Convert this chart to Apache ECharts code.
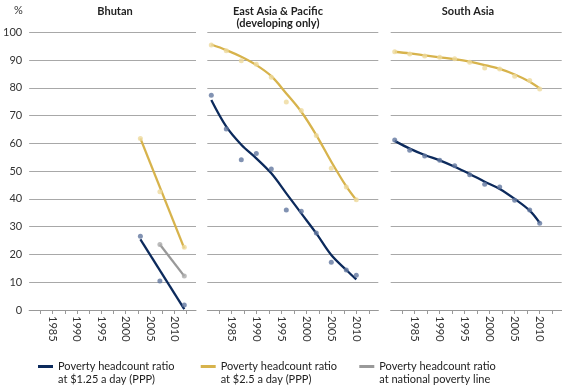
<!DOCTYPE html>
<html><head><meta charset="utf-8">
<script src="https://cdn.jsdelivr.net/npm/echarts@6/dist/echarts.min.js"></script>
<style>html,body{margin:0;padding:0;background:#fff}#c{width:562px;height:387px}</style>
</head><body><div id="c"></div>
<script>
// ---------- data ----------
const panelTitles = ['Bhutan', 'East Asia & Pacific\n(developing only)', 'South Asia'];
const yTickValues = [0, 10, 20, 30, 40, 50, 60, 70, 80, 90, 100];
const xTickYears = [1982.5, 1985, 1987.5, 1990, 1992.5, 1995, 1997.5, 2000, 2002.5, 2005, 2007.5, 2010, 2012.5];
const xLabelYears = [1985, 1990, 1995, 2000, 2005, 2010];

const povcalYears = [1981, 1984, 1987, 1990, 1993, 1996, 1999, 2002, 2005, 2008, 2010];
const bhutanYears = [2003, 2007, 2012];
const bhutanNatYears = [2007, 2012];
const bhutanTrendYears = [2003, 2012];

// Bhutan
const bhutan125Points = [26.6, 10.4, 1.8];
const bhutan125Trend = [25.4, 0.3];
const bhutan25Points = [61.8, 42.6, 22.6];
const bhutan25Trend = [61.8, 22.2];
const bhutanNatPoints = [23.6, 12.2];
const bhutanNatTrend = [23.6, 12.2];

// East Asia & Pacific
const eap125Points = [77.3, 65.2, 54.1, 56.4, 50.8, 36.0, 35.6, 27.7, 17.2, 14.4, 12.5];
const eap125Trend = [75.6, 66.0, 59.5, 54.6, 49.2, 42.0, 34.8, 27.6, 19.8, 14.4, 11.0];
const eap25Points = [95.4, 93.4, 89.8, 88.5, 83.8, 74.9, 71.8, 62.8, 51.0, 44.3, 39.7];
const eap25Trend = [95.6, 93.6, 91.2, 88.2, 84.2, 78.0, 71.4, 63.0, 53.4, 44.5, 39.6];

// South Asia
const sa125Points = [61.2, 57.5, 55.5, 53.9, 51.9, 48.7, 45.3, 44.3, 39.5, 36.0, 31.2];
const sa125Trend = [60.9, 58.1, 55.8, 53.9, 51.6, 49.0, 46.2, 43.6, 40.0, 35.8, 31.4];
const sa25Points = [93.0, 92.2, 91.5, 91.0, 90.5, 89.2, 87.1, 86.8, 84.2, 82.6, 79.6];
const sa25Trend = [93.0, 92.4, 91.7, 91.0, 90.3, 89.4, 88.2, 86.8, 84.8, 82.2, 79.8];

const legendNames = ['p125', 'p25', 'pnat'];
const legendLabels = {
  p125: 'Poverty headcount ratio\nat $1.25 a day (PPP)',
  p25: 'Poverty headcount ratio\nat $2.5 a day (PPP)',
  pnat: 'Poverty headcount ratio\nat national poverty line'
};

// ---------- styling ----------
const FONT = 'Lato';
const C = {
  navy: '#0c2a5c', navyPt: '#62779f',
  gold: '#d7b34c', goldPt: '#eed99c',
  grey: '#999999', greyPt: '#ababab',
  grid: '#a8a8a8', text: '#222'
};
const grids = [
  { left: 25, width: 171, top: 32.3, height: 277.7 },
  { left: 207.3, width: 171, top: 32.3, height: 277.7 },
  { left: 390.7, width: 171, top: 32.3, height: 277.7 }
];
const titleCenters = [110, 273, 463];

function pairs(xs, ys) { return xs.map((x, i) => [x, ys[i]]); }

const xAxes = grids.map((g, i) => ({
  type: 'value', gridIndex: i, min: 1980.2, max: 2014.4,
  axisLine: { show: true, lineStyle: { color: '#999', width: 1 } },
  axisTick: { show: true, length: 4, lineStyle: { color: '#999' }, customValues: xTickYears },
  axisLabel: { show: true, customValues: xLabelYears, rotate: -90, margin: 6,
    fontFamily: FONT, fontSize: 11, color: '#333', formatter: v => String(v) },
  splitLine: { show: false }
}));
const yAxes = grids.map((g, i) => ({
  type: 'value', gridIndex: i, min: 0, max: 100, interval: 10,
  axisLine: { show: false }, axisTick: { show: false },
  axisLabel: { show: i === 0, fontFamily: FONT, fontSize: 11, color: '#333', margin: 7 },
  splitLine: { show: true, lineStyle: { color: C.grid, width: 1 } }
}));

function lineS(name, idx, xs, ys, color) {
  return { type: 'line', name, xAxisIndex: idx, yAxisIndex: idx, data: pairs(xs, ys),
    smooth: 0.35, showSymbol: false, color, lineStyle: { color, width: 2.3 }, z: 3, silent: true };
}
function ptS(name, idx, xs, ys, color) {
  return { type: 'scatter', name, xAxisIndex: idx, yAxisIndex: idx, data: pairs(xs, ys),
    symbolSize: 5, itemStyle: { color }, z: 4, silent: true };
}

const series = [
  lineS('p125', 0, bhutanTrendYears, bhutan125Trend, C.navy),
  lineS('p25', 0, bhutanTrendYears, bhutan25Trend, C.gold),
  lineS('pnat', 0, bhutanNatYears, bhutanNatTrend, C.grey),
  ptS('pts125', 0, bhutanYears, bhutan125Points, C.navyPt),
  ptS('pts25', 0, bhutanYears, bhutan25Points, C.goldPt),
  ptS('ptsnat', 0, bhutanNatYears, bhutanNatPoints, C.greyPt),

  lineS('p125', 1, povcalYears, eap125Trend, C.navy),
  lineS('p25', 1, povcalYears, eap25Trend, C.gold),
  ptS('pts125', 1, povcalYears, eap125Points, C.navyPt),
  ptS('pts25', 1, povcalYears, eap25Points, C.goldPt),

  lineS('p125', 2, povcalYears, sa125Trend, C.navy),
  lineS('p25', 2, povcalYears, sa25Trend, C.gold),
  ptS('pts125', 2, povcalYears, sa125Points, C.navyPt),
  ptS('pts25', 2, povcalYears, sa25Points, C.goldPt)
];

const legendLefts = [38, 200.7, 359.3];
const legends = legendNames.map((n, i) => ({
  data: [n], left: legendLefts[i], top: 347, padding: 0, orient: 'horizontal',
  icon: 'rect', itemWidth: 15, itemHeight: 3, selectedMode: false,
  // leading empty line keeps the first text line level with the legend line
  formatter: name => '\n' + legendLabels[name],
  textStyle: { fontFamily: FONT, fontSize: 11, color: C.text, lineHeight: 13 }
}));

const titles = panelTitles.map((t, i) => ({
  text: t, left: titleCenters[i], top: 0, textAlign: 'center',
  textStyle: { fontFamily: FONT, fontSize: 11, fontWeight: 'bold', color: C.text, lineHeight: 12 }
}));
titles.push({ text: '%', left: 9, top: 0, textStyle: { fontFamily: FONT, fontSize: 11, fontWeight: 'normal', color: '#333' } });

const chart = echarts.init(document.getElementById('c'), null, { renderer: 'canvas' });
chart.setOption({
  animation: false,
  backgroundColor: '#fff',
  title: titles,
  legend: legends,
  grid: grids,
  xAxis: xAxes,
  yAxis: yAxes,
  series
});
</script></body></html>
